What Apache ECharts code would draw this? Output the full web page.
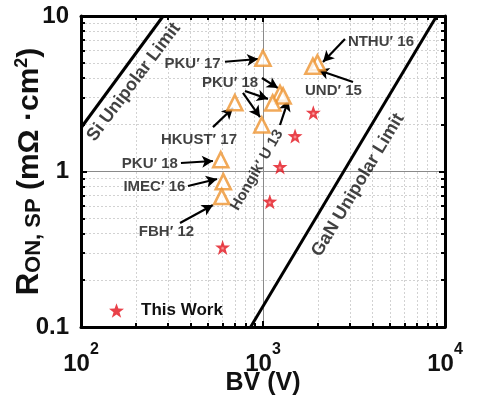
<!DOCTYPE html>
<html>
<head>
<meta charset="utf-8">
<script src="https://cdn.jsdelivr.net/npm/echarts@6/dist/echarts.min.js"></script>
<style>
html,body{margin:0;padding:0;background:#fff;}
#chart{width:488px;height:404px;}
</style>
</head>
<body>
<div id="chart"></div>
<script>
// ---- data ----
const triBV  = [1000, 1990, 1880, 700, 1240, 1290, 1130, 985, 586, 605, 593];
const triRon = [5.35, 5.0, 4.75, 2.77, 3.18, 3.06, 2.76, 1.99, 1.19, 0.86, 0.69];
const starBV  = [1890, 1500, 1240, 1090, 600];
const starRon = [2.39, 1.69, 1.07, 0.64, 0.325];
const siLimitBV  = [101, 283];
const siLimitRon = [1.94, 10];
const ganLimitBV  = [855, 9000];
const ganLimitRon = [0.1, 10];

const xTickBase = {100: '10', 1000: '10', 10000: '10'};
const xTickExp  = {100: '2', 1000: '3', 10000: '4'};
const yTickLabels = {0.1: '0.1', 1: '1', 10: '10'};

const noteText  = ['PKU\u2032 17','PKU\u2032 18','HKUST\u2032 17','PKU\u2032 18','IMEC\u2032 16','FBH\u2032 12','NTHU\u2032 16','UND\u2032 15','Hongik\u2032 U 13','Si Unipolar Limit','GaN Unipolar Limit'];
const noteX     = [410, 659, 445, 239, 253, 295, 4446, 2438, 927, 195, 3327];
const noteY     = [4.91, 3.71, 1.595, 1.117, 0.795, 0.408, 6.80, 3.29, 1.02, 3.76, 0.819];
const noteAngle = [0, 0, 0, 0, 0, 0, 0, 0, 60, 53, 59];
const noteSize  = [15, 15, 15, 15, 15, 15, 15, 15, 15, 18, 18];

const arrowFromX = [618, 987, 796, 776, 1240, 531, 354, 387, 350, 2821, 3123];
const arrowFromY = [5.08, 3.99, 3.29, 3.20, 1.99, 1.93, 1.134, 0.807, 0.467, 7.11, 3.76];
const arrowToX   = [939, 1209, 1065, 963, 1377, 684, 531, 559, 531, 2136, 2005];
const arrowToY   = [5.29, 3.44, 2.93, 2.24, 2.88, 2.56, 1.168, 0.895, 0.609, 5.06, 4.49];

// ---- chart ----
const FONT = 'Liberation Sans, Arial, sans-serif';
const STAR = 'path://M50,2 L62,36 L98,37 L69,59 L80,95 L50,74 L20,95 L31,59 L2,37 L38,36 Z';
const STAR_FILL = {type: 'radial', x: 0.5, y: 0.56, r: 0.5,
  colorStops: [{offset: 0, color: '#ff9a9a'}, {offset: 0.16, color: '#f04a50'}, {offset: 0.26, color: '#e3121c'}, {offset: 1, color: '#e3121c'}]};
const chart = echarts.init(document.getElementById('chart'), null, {renderer: 'canvas'});

const baseAxis = {
  type: 'log', logBase: 10,
  axisLine: {show: true, onZero: false, lineStyle: {color: '#000', width: 3}},
  axisTick: {show: true, inside: true, length: 6, lineStyle: {color: '#000', width: 2}},
  minorTick: {show: true, splitNumber: 9, length: 4, lineStyle: {color: '#000', width: 2}},
  splitLine: {show: false},
  minorSplitLine: {show: false},
  axisLabel: {show: false}
};

const option = {
  animation: false,
  backgroundColor: '#fff',
  grid: {left: 81, top: 16, width: 364, height: 311, containLabel: false, outerBoundsMode: 'none'},
  legend: {
    data: ['This Work'], left: 104, top: 297, icon: STAR,
    itemWidth: 15, itemHeight: 15,
    itemStyle: {color: '#e3121c'},
    textStyle: {fontFamily: FONT, fontSize: 17, fontWeight: 'bold', color: '#111', padding: [0, 0, 0, 12]}
  },
  xAxis: [
    Object.assign({}, baseAxis, {
      position: 'bottom', min: 100, max: 10000,
      splitLine: {show: true, lineStyle: {color: '#8a8a8a', width: 1}},
      minorSplitLine: {show: true, lineStyle: {color: '#d2d2d2', width: 1, type: [2, 2]}},
      axisLabel: {
        show: true, margin: 15,
        formatter: v => '{b|' + xTickBase[v] + '}{s|' + xTickExp[v] + '}',
        rich: {
          b: {fontFamily: FONT, fontSize: 24, fontWeight: 'bold', color: '#111', lineHeight: 34, verticalAlign: 'bottom'},
          s: {fontFamily: FONT, fontSize: 16, fontWeight: 'bold', color: '#111', lineHeight: 16, verticalAlign: 'top'}
        }
      },
      name: 'BV (V)', nameLocation: 'middle', nameGap: 44, nameMoveOverlap: false,
      nameTextStyle: {fontFamily: FONT, fontSize: 25, fontWeight: 'bold', color: '#111'}
    }),
    Object.assign({}, baseAxis, {position: 'top', min: 100, max: 10000})
  ],
  yAxis: [
    Object.assign({}, baseAxis, {
      position: 'left', min: 0.1, max: 10,
      splitLine: {show: true, lineStyle: {color: '#8a8a8a', width: 1}},
      minorSplitLine: {show: true, lineStyle: {color: '#d2d2d2', width: 1, type: [2, 2]}},
      axisLabel: {
        show: true, margin: 12,
        formatter: v => yTickLabels[v] !== undefined ? yTickLabels[v] : '',
        fontFamily: FONT, fontSize: 24, fontWeight: 'bold', color: '#111'
      },
      name: '{r|R}{sub|ON, SP}{p| (m\u03A9 \u00B7cm}{sup|2}{p|)}',
      nameLocation: 'middle', nameRotate: 90, nameGap: 36, nameMoveOverlap: false,
      nameTextStyle: {
        rich: {
          r:   {fontFamily: FONT, fontSize: 31, fontWeight: 'bold', color: '#111', lineHeight: 32, verticalAlign: 'bottom'},
          sub: {fontFamily: FONT, fontSize: 22, fontWeight: 'bold', color: '#111', lineHeight: 23, verticalAlign: 'bottom'},
          p:   {fontFamily: FONT, fontSize: 30, fontWeight: 'bold', color: '#111', lineHeight: 32, verticalAlign: 'bottom'},
          sup: {fontFamily: FONT, fontSize: 18, fontWeight: 'bold', color: '#111', lineHeight: 18, verticalAlign: 'top'}
        }
      }
    }),
    Object.assign({}, baseAxis, {position: 'right', min: 0.1, max: 10})
  ],
  series: [
    {
      name: 'Si Limit', type: 'line', silent: true, symbol: 'none', z: 3,
      lineStyle: {color: '#000', width: 3},
      data: siLimitBV.map((v, i) => [v, siLimitRon[i]])
    },
    {
      name: 'GaN Limit', type: 'line', silent: true, symbol: 'none', z: 3,
      lineStyle: {color: '#000', width: 3},
      data: ganLimitBV.map((v, i) => [v, ganLimitRon[i]])
    },
    {
      name: 'Reported', type: 'scatter', symbol: 'triangle', symbolSize: 15, z: 5,
      itemStyle: {color: '#fff', borderColor: '#EE9330', borderWidth: 2.6},
      data: triBV.map((v, i) => [v, triRon[i]])
    },
    {
      name: 'This Work', type: 'scatter', symbol: STAR, symbolSize: 15, z: 6,
      itemStyle: {color: STAR_FILL},
      data: starBV.map((v, i) => [v, starRon[i]])
    },
    {
      name: 'notes', type: 'scatter', symbolSize: 1, silent: true, z: 8,
      itemStyle: {color: 'rgba(0,0,0,0)'},
      label: {show: true, position: 'inside', formatter: '{b}', fontFamily: FONT, fontWeight: 'bold', color: '#111'},
      data: noteText.map((t, i) => ({
        name: t, value: [noteX[i], noteY[i]],
        label: {rotate: noteAngle[i], fontSize: noteSize[i]}
      })),
      markLine: {
        silent: true, symbol: ['none', 'arrow'], symbolSize: [9, 11], precision: 4,
        label: {show: false},
        lineStyle: {color: '#000', width: 2.2, type: 'solid'},
        data: arrowFromX.map((x, i) => [
          {coord: [x, arrowFromY[i]]},
          {coord: [arrowToX[i], arrowToY[i]]}
        ])
      }
    }
  ]
};
chart.setOption(option);
</script>
</body>
</html>
